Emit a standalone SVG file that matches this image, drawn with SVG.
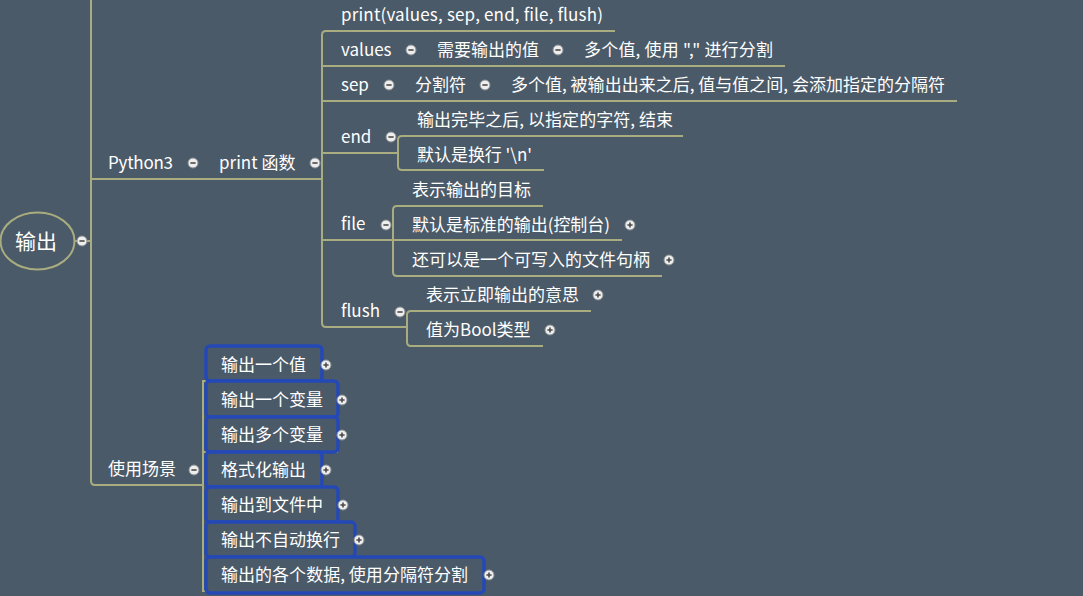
<svg xmlns="http://www.w3.org/2000/svg" width="1083" height="596" viewBox="0 0 1083 596">
<style>
.bg{fill:#4b5a68}
.ln{fill:none;stroke:#a8ac7e;stroke-width:2}
.t{font-family:"Noto Sans CJK SC","Noto Sans",sans-serif;font-size:17px;fill:#ffffff}
.root{font-family:"Noto Sans CJK SC","Noto Sans",sans-serif;font-size:21px;fill:#ffffff}
.btn{fill:#eeeeee;stroke:#8a8f94;stroke-width:1}
.sg{stroke:#4a4a4a;stroke-width:1.6;fill:none}
.box{fill:#4b5a68;stroke:#2449b6;stroke-width:3.5}
</style>
<defs>
<g id="minus"><circle class="btn" r="5"/><path class="sg" d="M-2.6 0H2.6"/></g>
<g id="plus"><circle class="btn" r="5"/><path class="sg" d="M-2.6 0H2.6M0 -2.6V2.6"/></g>
</defs>
<rect class="bg" width="1083" height="596"/>
<g id="connectors">
<path class="ln" d="M91 0V481Q91 485 95 485H203"/>
<path class="ln" d="M75 241H91"/>
<path class="ln" d="M91 179H322"/>
<path class="ln" d="M615 31H326Q322 31 322 35V323Q322 327 326 327H407"/>
<path class="ln" d="M322 66H785"/>
<path class="ln" d="M322 101H957"/>
<path class="ln" d="M322 153H398"/>
<path class="ln" d="M683 136H402Q398 136 398 140V166Q398 170 402 170H544"/>
<path class="ln" d="M322 240H622"/>
<path class="ln" d="M543 206H397Q393 206 393 210V272Q393 276 397 276H662"/>
<path class="ln" d="M591 311H411Q407 311 407 315V342Q407 346 411 346H543"/>
<path class="ln" d="M207 381H203V591H207"/>
<path class="ln" d="M203 452H338"/>
</g>
<g id="root"><ellipse cx="37.5" cy="241" rx="37" ry="28.5" fill="none" stroke="#a8ac7e" stroke-width="2"/><text class="root" x="15" y="249">输出</text><use href="#minus" x="82" y="241"/></g>
<g id="python3"><text class="t" x="108" y="169" textLength="65">Python3</text><use href="#minus" x="193" y="163"/></g>
<g id="printfn"><text class="t" x="219" y="169">print 函数</text><use href="#minus" x="315" y="163"/></g>
<g id="sig"><text class="t" x="341" y="21" textLength="262">print(values, sep, end, file, flush)</text></g>
<g id="values"><text class="t" x="341" y="56">values</text><use href="#minus" x="411" y="50"/></g>
<g id="values1"><text class="t" x="437" y="56">需要输出的值</text><use href="#minus" x="558" y="50"/></g>
<g id="values2"><text class="t" x="584" y="56" textLength="189">多个值, 使用 "," 进行分割</text></g>
<g id="sep"><text class="t" x="341" y="91">sep</text><use href="#minus" x="389" y="85"/></g>
<g id="sep1"><text class="t" x="415" y="91">分割符</text><use href="#minus" x="485" y="85"/></g>
<g id="sep2"><text class="t" x="511" y="91" textLength="434">多个值, 被输出出来之后, 值与值之间, 会添加指定的分隔符</text></g>
<g id="end"><text class="t" x="341" y="143">end</text><use href="#minus" x="391" y="137"/></g>
<g id="end1"><text class="t" x="417" y="126" textLength="256">输出完毕之后, 以指定的字符, 结束</text></g>
<g id="end2"><text class="t" x="417" y="161" textLength="115">默认是换行 '\n'</text></g>
<g id="file"><text class="t" x="341" y="230">file</text><use href="#minus" x="386" y="225"/></g>
<g id="file1"><text class="t" x="412" y="196">表示输出的目标</text></g>
<g id="file2"><text class="t" x="412" y="231" textLength="198">默认是标准的输出(控制台)</text><use href="#plus" x="630" y="225"/></g>
<g id="file3"><text class="t" x="412" y="266">还可以是一个可写入的文件句柄</text><use href="#plus" x="669" y="260"/></g>
<g id="flush"><text class="t" x="341" y="317">flush</text><use href="#minus" x="400" y="312"/></g>
<g id="flush1"><text class="t" x="426" y="301">表示立即输出的意思</text><use href="#plus" x="598" y="295"/></g>
<g id="flush2"><text class="t" x="426" y="336">值为Bool类型</text><use href="#plus" x="550" y="330"/></g>
<g id="usage"><text class="t" x="108" y="475">使用场景</text><use href="#minus" x="194" y="470"/></g>
<g id="u1"><rect class="box" x="206" y="346" width="116" height="35" rx="4"/><text class="t" x="221" y="371">输出一个值</text><use href="#plus" x="326" y="365"/></g>
<g id="u2"><rect class="box" x="206" y="381" width="132" height="36" rx="4"/><text class="t" x="221" y="406">输出一个变量</text><use href="#plus" x="342" y="400"/></g>
<g id="u3"><rect class="box" x="206" y="417" width="132" height="35" rx="4"/><text class="t" x="221" y="441">输出多个变量</text><use href="#plus" x="342" y="435"/></g>
<g id="u4"><rect class="box" x="206" y="452" width="116" height="35" rx="4"/><text class="t" x="221" y="476">格式化输出</text><use href="#plus" x="326" y="470"/></g>
<g id="u5"><rect class="box" x="206" y="487" width="132" height="35" rx="4"/><text class="t" x="221" y="511">输出到文件中</text><use href="#plus" x="343" y="505"/></g>
<g id="u6"><rect class="box" x="206" y="522" width="149" height="35" rx="4"/><text class="t" x="221" y="546">输出不自动换行</text><use href="#plus" x="359" y="540"/></g>
<g id="u7"><rect class="box" x="206" y="557" width="278" height="36" rx="4"/><text class="t" x="221" y="581" textLength="247">输出的各个数据, 使用分隔符分割</text><use href="#plus" x="489" y="575"/></g>
</svg>
